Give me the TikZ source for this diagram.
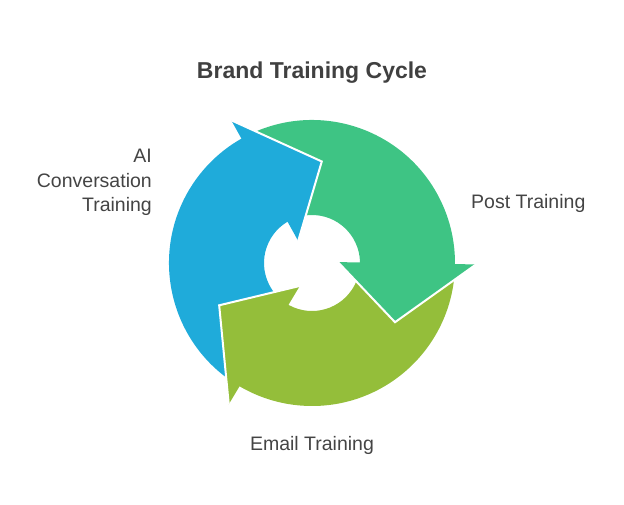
\documentclass[tikz,border=0pt]{standalone}
\usepackage{fontspec}
\setmainfont{Liberation Sans}
\definecolor{cyclegreen}{RGB}{62, 196, 132}
\definecolor{cycleolive}{RGB}{148, 190, 58}
\definecolor{cycleblue}{RGB}{31, 171, 218}
\definecolor{titlegray}{RGB}{64, 64, 64}
\definecolor{labelgray}{RGB}{68, 68, 68}
\usetikzlibrary{positioning}

\begin{document}
\begin{tikzpicture}[x=1pt, y=1pt,
  headedge/.style={draw=white, line width=2pt, line join=miter},
  steplabel/.style={text=labelgray, inner sep=0pt, font=\fontsize{19.5}{24.5}\selectfont}]
  \useasboundingbox (-312, -241) rectangle (312, 263);

  % Title
  \node[text=titlegray, inner sep=0pt, anchor=base, font=\fontsize{23}{27}\selectfont\bfseries] (title) at (0, 185) {Brand Training Cycle};

  % Arrow bodies (ring sectors)
  \fill[cyclegreen] (118:143) arc[start angle=118, end angle=-4, radius=143] -- (-4:48) arc[start angle=-4, end angle=118, radius=48] -- cycle;
  \fill[cycleolive] (-2:143) arc[start angle=-2, end angle=-124, radius=143] -- (-124:48) arc[start angle=-124, end angle=-2, radius=48] -- cycle;
  \fill[cycleblue] (-122:143) arc[start angle=-122, end angle=-244, radius=143] -- (-244:48) arc[start angle=-244, end angle=-122, radius=48] -- cycle;

  % Arrow heads
  \fill[cyclegreen] (-0.5:164) -- (-35.5:102) -- (2:26) -- cycle;
  \draw[headedge] (-0.5:164) -- (-35.5:102) -- (2:26);
  \fill[cycleolive] (-120.5:164) -- (-155.5:102) -- (-118:26) -- cycle;
  \draw[headedge] (-120.5:164) -- (-155.5:102) -- (-118:26);
  \fill[cycleblue] (119.5:164) -- (84.5:102) -- (122:26) -- cycle;
  \draw[headedge] (119.5:164) -- (84.5:102) -- (122:26);

  % Step labels
  \node[steplabel, anchor=base west] (post) at (159, 54.5) {Post Training};
  \node[steplabel, anchor=base] (email) at (0, -187) {Email Training};
  \node[steplabel, anchor=north east, align=right] (aiconv) at (-160, 114) {AI\\Conversation\\Training};
\end{tikzpicture}
\end{document}
